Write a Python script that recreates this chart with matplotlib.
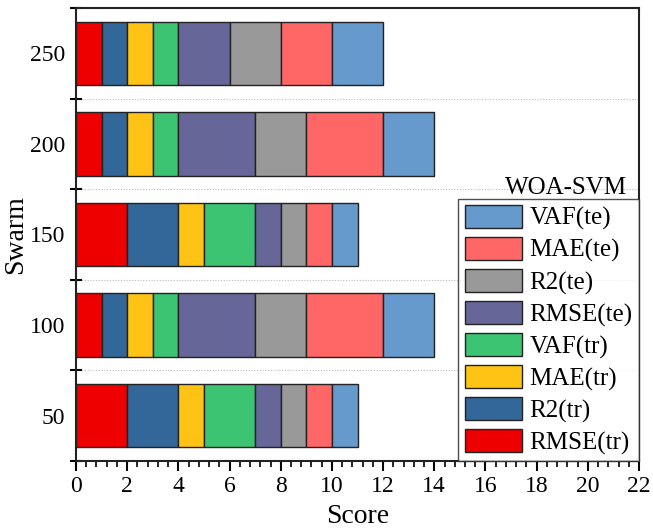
#!/usr/bin/env python3
import matplotlib
matplotlib.use("Agg")
import matplotlib.pyplot as plt
from matplotlib.ticker import MultipleLocator, FixedLocator
import numpy as np

plt.rcParams["font.family"] = ["Liberation Serif", "DejaVu Serif"]

swarms = ["50", "100", "150", "200", "250"]
metrics = ["RMSE(tr)", "R2(tr)", "MAE(tr)", "VAF(tr)", "RMSE(te)", "R2(te)", "MAE(te)", "VAF(te)"]
colors = ["#EE0000", "#336699", "#FFC316", "#3CC473", "#666699", "#999999", "#FF6666", "#6699CC"]

# scores per metric, one value per swarm (50, 100, 150, 200, 250)
rmse_tr = [2, 1, 2, 1, 1]
r2_tr = [2, 1, 2, 1, 1]
mae_tr = [1, 1, 1, 1, 1]
vaf_tr = [2, 1, 2, 1, 1]
rmse_te = [1, 3, 1, 3, 2]
r2_te = [1, 2, 1, 2, 2]
mae_te = [1, 3, 1, 3, 2]
vaf_te = [1, 2, 1, 2, 2]
series = [rmse_tr, r2_tr, mae_tr, vaf_tr, rmse_te, r2_te, mae_te, vaf_te]

fig = plt.figure(figsize=(6.53, 5.30), dpi=100)
ax = fig.add_axes([0.1164, 0.1302, 0.9786 - 0.1164, 0.9849 - 0.1302])

y = np.arange(len(swarms))
left = np.zeros(len(swarms))
handles = []
for vals, col, lab in zip(series, colors, metrics):
    h = ax.barh(y, vals, left=left, height=0.7, color=col, edgecolor="#222222",
                linewidth=1.0, label=lab, zorder=3)
    handles.append(h)
    left += np.array(vals)

ax.set_xlim(0, 22)
ax.set_ylim(-0.5, 4.5)
ax.xaxis.set_major_locator(MultipleLocator(2))
ax.xaxis.set_minor_locator(MultipleLocator(0.4))
ax.set_yticks(y)
ax.set_yticklabels(swarms)
ax.yaxis.set_minor_locator(FixedLocator(np.arange(-0.5, 5, 1.0)))

ax.tick_params(axis="x", which="major", direction="out", length=7, width=1.5, labelsize=17, pad=4)
ax.tick_params(axis="x", which="minor", direction="out", length=4, width=1.2)
ax.tick_params(axis="y", which="major", length=0, labelsize=17, pad=8)
ax.tick_params(axis="y", which="minor", direction="inout", length=8, width=1.5)

for sp in ax.spines.values():
    sp.set_linewidth(1.5)
    sp.set_color("#222222")

for b in np.arange(0.5, 4.5, 1.0):
    ax.axhline(b, color="#bbbbbb", linestyle=(0, (1, 1.5)), linewidth=0.8, zorder=1)

ax.set_xlabel("Score", fontsize=20, labelpad=5)
ax.set_ylabel("Swarm", fontsize=20, labelpad=1)

leg = ax.legend(handles[::-1], metrics[::-1], loc="lower right", borderaxespad=0,
                fontsize=18, frameon=True, fancybox=False, handlelength=2.3,
                handleheight=1.05, labelspacing=0.26, handletextpad=0.3,
                borderpad=0.25)
leg.get_frame().set_edgecolor("#222222")
leg.get_frame().set_linewidth(1.0)
leg.set_zorder(5)
ax.text(0.979, 0.603, "WOA-SVM", transform=ax.transAxes, ha="right", va="center",
        fontsize=18, zorder=6)

fig.savefig("out.png", dpi=100)
